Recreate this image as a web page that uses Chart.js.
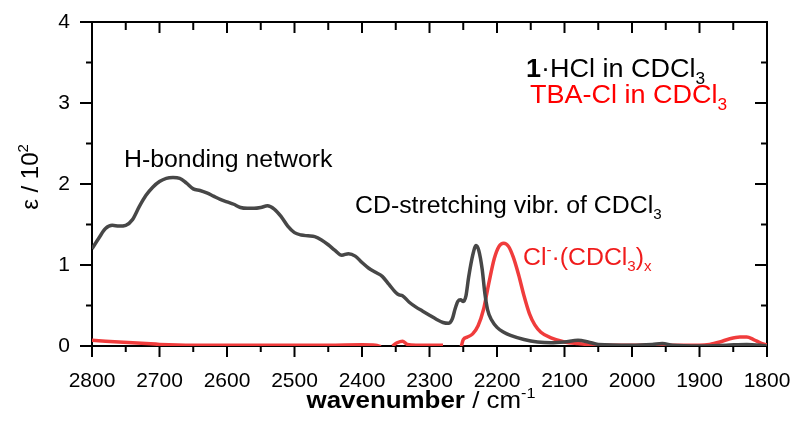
<!DOCTYPE html>
<html>
<head>
<meta charset="utf-8">
<script src="https://cdn.jsdelivr.net/npm/chart.js@4.4.0/dist/chart.umd.min.js"></script>
<style>
  body { margin: 0; background: #fff; }
  #wrap { width: 794px; height: 432px; }
</style>
</head>
<body>
<div id="wrap"><canvas id="irChart"></canvas></div>
<script>
// spectrum values: wavenumber (cm-1) and eps / 10^2
const hclWavenumbers = [2800, 2790, 2780, 2770, 2760, 2750, 2740, 2730, 2720, 2710, 2700, 2690, 2680, 2670, 2660, 2650, 2640, 2630, 2620, 2610, 2600, 2590, 2580, 2570, 2560, 2550, 2540, 2530, 2520, 2510, 2500, 2490, 2480, 2470, 2460, 2450, 2440, 2430, 2420, 2410, 2400, 2390, 2380, 2370, 2360, 2350, 2345, 2340, 2330, 2320, 2310, 2300, 2290, 2280, 2272, 2266, 2262, 2258, 2254, 2250, 2246, 2242, 2236, 2231, 2227, 2222, 2218, 2214, 2208, 2200, 2190, 2180, 2160, 2140, 2120, 2100, 2080, 2065, 2050, 2000, 1970, 1955, 1940, 1900, 1860, 1830, 1810, 1800];
const hclValues = [1.20, 1.33, 1.45, 1.49, 1.48, 1.49, 1.56, 1.72, 1.86, 1.96, 2.03, 2.07, 2.08, 2.07, 2.01, 1.94, 1.92, 1.89, 1.85, 1.81, 1.78, 1.75, 1.71, 1.70, 1.70, 1.71, 1.73, 1.69, 1.60, 1.48, 1.40, 1.37, 1.36, 1.35, 1.31, 1.25, 1.18, 1.12, 1.14, 1.11, 1.03, 0.96, 0.91, 0.86, 0.76, 0.66, 0.63, 0.62, 0.54, 0.48, 0.43, 0.38, 0.33, 0.29, 0.28, 0.34, 0.46, 0.55, 0.57, 0.55, 0.62, 0.85, 1.12, 1.24, 1.18, 0.95, 0.65, 0.45, 0.32, 0.23, 0.17, 0.13, 0.08, 0.05, 0.04, 0.05, 0.07, 0.05, 0.02, 0.01, 0.02, 0.03, 0.01, 0.00, 0.01, 0.02, 0.01, 0.00];

const tbaWavenumbers = [2800, 2780, 2760, 2740, 2720, 2700, 2650, 2550, 2450, 2400, 2380, 2372, 2365, 2355, 2348, 2340, 2333, 2320, 2300, 2280, 2276, 2253, 2250, 2244, 2236, 2228, 2220, 2212, 2204, 2197, 2190, 2183, 2176, 2168, 2160, 2152, 2144, 2135, 2120, 2100, 2080, 2050, 1950, 1900, 1885, 1870, 1855, 1840, 1830, 1820, 1810, 1800];
const tbaValues = [0.07, 0.06, 0.05, 0.04, 0.03, 0.02, 0.01, 0.01, 0.01, 0.015, 0.01, -0.01, null, 0.00, 0.04, 0.06, 0.02, 0.01, 0.01, 0.01, null, -0.01, 0.08, 0.11, 0.15, 0.25, 0.45, 0.78, 1.08, 1.23, 1.27, 1.23, 1.10, 0.88, 0.62, 0.40, 0.26, 0.17, 0.10, 0.05, 0.03, 0.01, 0.01, 0.01, 0.02, 0.05, 0.09, 0.11, 0.11, 0.08, 0.04, 0.01];

const xTicks = [2800, 2700, 2600, 2500, 2400, 2300, 2200, 2100, 2000, 1900, 1800];
const yTicks = [0, 1, 2, 3, 4];

const FONT = '"Liberation Sans", Arial, sans-serif';
const SX = 1.08; // text in the picture is a bit wide

function toPoints(xs, ys) {
  return xs.map((x, i) => ({ x: x, y: ys[i] }));
}

// draws a line of text made of parts: {t, b, sub, sup}
function drawRich(ctx, parts, x, y, size, color, align, sx) {
  const fontFor = p => (p.b ? 'bold ' : '') + Math.round(p.sub || p.sup ? size * 0.62 : size) + 'px ' + FONT;
  ctx.save();
  ctx.translate(x, y);
  ctx.scale(sx, 1);
  ctx.fillStyle = color;
  ctx.textBaseline = 'alphabetic';
  ctx.textAlign = 'left';
  let w = 0;
  parts.forEach(p => { ctx.font = fontFor(p); w += ctx.measureText(p.t).width; });
  let cx = align === 'center' ? -w / 2 : 0;
  parts.forEach(p => {
    ctx.font = fontFor(p);
    const dy = p.sub ? size * 0.27 : (p.sup ? -size * 0.42 : 0);
    ctx.fillText(p.t, cx, dy);
    cx += ctx.measureText(p.t).width;
  });
  ctx.restore();
}

// box with ticks on all four sides
const frame = {
  id: 'frame',
  beforeDatasetsDraw(chart) {
    const { ctx, chartArea: a, scales: { x, y } } = chart;
    function line(x1, y1, x2, y2) {
      ctx.beginPath(); ctx.moveTo(x1, y1); ctx.lineTo(x2, y2); ctx.stroke();
    }
    ctx.save();
    ctx.strokeStyle = '#000';
    ctx.lineWidth = 2;
    ctx.strokeRect(a.left, a.top, a.right - a.left, a.bottom - a.top);
    xTicks.forEach((v, i) => {
      const px = x.getPixelForValue(v);
      line(px, a.bottom, px, a.bottom + 11);
      line(px, a.top, px, a.top + 11);
      if (i < xTicks.length - 1) {
        const m = x.getPixelForValue((v + xTicks[i + 1]) / 2);
        line(m, a.bottom, m, a.bottom + 6);
        line(m, a.top, m, a.top + 8);
      }
    });
    yTicks.forEach((v, i) => {
      const py = y.getPixelForValue(v);
      line(a.left - 12, py, a.left, py);
      line(a.right - 12, py, a.right, py);
      if (i < yTicks.length - 1) {
        const m = y.getPixelForValue((v + yTicks[i + 1]) / 2);
        line(a.left - 6, m, a.left, m);
        line(a.right - 6, m, a.right, m);
      }
    });
    ctx.restore();
  },
  afterDraw(chart) {
    const ctx = chart.ctx;
    // axis titles
    drawRich(ctx, [{ t: 'wavenumber', b: true }, { t: ' / cm' }, { t: '-1', sup: true }], 421, 408, 24, '#000', 'center', SX);
    ctx.save();
    ctx.translate(38, 177);
    ctx.rotate(-Math.PI / 2);
    drawRich(ctx, [{ t: 'ε / 10' }, { t: '2', sup: true }], 0, 0, 24, '#000', 'center', 1);
    ctx.restore();
    // annotations
    drawRich(ctx, [{ t: 'H-bonding network' }], 124, 167, 23, '#000', 'left', SX);
    drawRich(ctx, [{ t: 'CD-stretching vibr. of CDCl' }, { t: '3', sub: true }], 355, 213, 23, '#000', 'left', SX);
    drawRich(ctx, [{ t: 'Cl' }, { t: '-', sup: true }, { t: '·(CDCl' }, { t: '3', sub: true }, { t: ')' }, { t: 'x', sub: true }], 523, 265, 23, '#f01c1c', 'left', SX);
    // legend
    drawRich(ctx, [{ t: '1', b: true }, { t: '·HCl in CDCl' }, { t: '3', sub: true }], 526, 77, 25, '#000', 'left', SX);
    drawRich(ctx, [{ t: 'TBA-Cl in CDCl' }, { t: '3', sub: true }], 530, 103, 25, '#f00', 'left', SX);
  }
};

const ctx = document.getElementById('irChart').getContext('2d');
const chart = new Chart(ctx, {
  type: 'scatter',
  data: {
    datasets: [
      {
        label: '1·HCl in CDCl3',
        data: toPoints(hclWavenumbers, hclValues),
        showLine: true,
        borderColor: '#474747',
        borderWidth: 3.5,
        pointRadius: 0,
        cubicInterpolationMode: 'monotone',
        order: 0
      },
      {
        label: 'TBA-Cl in CDCl3',
        data: toPoints(tbaWavenumbers, tbaValues),
        showLine: true,
        spanGaps: false,
        borderColor: '#f03c3c',
        borderWidth: 3.5,
        pointRadius: 0,
        cubicInterpolationMode: 'monotone',
        order: 1
      }
    ]
  },
  options: {
    responsive: true,
    maintainAspectRatio: false,
    animation: false,
    layout: { padding: { top: 22, right: 27, left: 0, bottom: 0 } },
    plugins: { legend: { display: false }, tooltip: { enabled: false } },
    scales: {
      x: {
        type: 'linear',
        reverse: true,
        min: 1800,
        max: 2800,
        afterBuildTicks: s => { s.ticks = xTicks.map(v => ({ value: v })); },
        afterFit: s => { s.height = 86; s.paddingLeft = 0; s.paddingRight = 0; },
        grid: { display: false, drawTicks: false },
        border: { display: false },
        ticks: { padding: 23, maxRotation: 0, color: '#000', font: { family: FONT, size: 21 }, callback: v => String(v) }
      },
      y: {
        min: 0,
        max: 4,
        afterBuildTicks: s => { s.ticks = yTicks.map(v => ({ value: v })); },
        afterFit: s => { s.width = 92; s.paddingTop = 0; s.paddingBottom = 0; },
        grid: { display: false, drawTicks: false },
        border: { display: false },
        ticks: { padding: 22, color: '#000', font: { family: FONT, size: 21 }, callback: v => String(v) }
      }
    }
  },
  plugins: [frame]
});
</script>
</body>
</html>
